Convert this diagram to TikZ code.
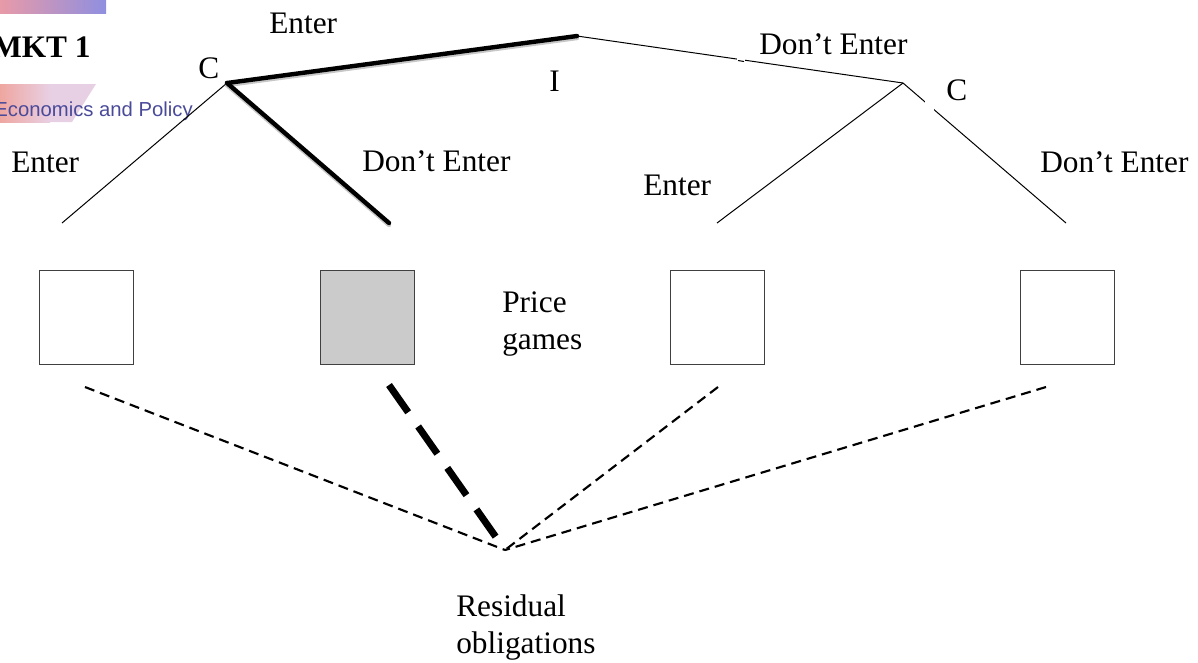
\documentclass[tikz,border=0pt]{standalone}
\usepackage{fontspec}
\setmainfont{Liberation Serif}
\newfontfamily\logofont{Liberation Sans}
\usetikzlibrary{shadings}
\definecolor{logoblue}{HTML}{4A4A9A}
\definecolor{pinkband}{HTML}{E89AA8}
\definecolor{blueband}{HTML}{8F8FE0}
\definecolor{salmon}{HTML}{EFA6A0}
\definecolor{lilac}{HTML}{E8D0E4}
\definecolor{gamefill}{HTML}{CBCBCB}
\tikzset{
  x=0.75pt,y=-0.75pt,
  lbl/.style={inner sep=0pt,font=\fontsize{23.5pt}{27pt}\selectfont,align=left},
  thin line/.style={draw=black,line width=0.75pt},
  thick line/.style={draw=black,line width=3.3pt,line cap=round},
  heavy shadow/.style={draw=black!22,line width=3.3pt,line cap=round},
  game/.style={draw=black!75,line width=0.75pt,fill=white},
  dash thin/.style={draw=black,line width=1.6pt,dash pattern=on 7.5pt off 4.5pt},
  dash heavy/.style={draw=black,line width=5.2pt,dash pattern=on 25pt off 13pt},
}
\begin{document}
\begin{tikzpicture}
\useasboundingbox (0,0) rectangle (1198,662);
% logo fragments
\shade[left color=pinkband,right color=blueband] (0,0) rectangle (106,13);
\shade[left color=salmon,right color=lilac] (0,84) rectangle (50,122);
\fill[lilac] (50,84) -- (96,84) -- (72,122) -- (50,122) -- cycle;
\node[inner sep=0pt,anchor=base west,font=\bfseries\fontsize{23.5pt}{27pt}\selectfont] (mkt) at (-8,57) {MKT 1};
\node[inner sep=0pt,anchor=base east,text=logoblue,font=\logofont\fontsize{15.2pt}{18pt}\selectfont] (logo) at (193,116) {al Economics and Policy};
% tree nodes
\coordinate (cl) at (227,83);
\coordinate (top) at (577,36);
\coordinate (cr) at (903,83);
\coordinate (ll) at (62,223);
\coordinate (lr) at (389,223);
\coordinate (rl) at (717,223);
\coordinate (rr) at (1066,223);
\coordinate (hub) at (505,550);
\coordinate (d1) at (85,387);
\coordinate (d2) at (389,385);
\coordinate (d3) at (718,387);
\coordinate (d4) at (1046,387);
% games
\node[game,minimum size=70.5pt,inner sep=0pt,anchor=north west] (g1) at (39,270) {};
\node[game,minimum size=70.5pt,inner sep=0pt,anchor=north west,fill=gamefill] (g2) at (320,270) {};
\node[game,minimum size=70.5pt,inner sep=0pt,anchor=north west] (g3) at (670,270) {};
\node[game,minimum size=70.5pt,inner sep=0pt,anchor=north west] (g4) at (1020,270) {};
% tree edges
\draw[thin line] (top) -- (cr);
\draw[thin line] (cl) -- (ll);
\draw[thin line] (cr) -- (rl);
\draw[thin line] (cr) -- (rr);
\draw[heavy shadow] ([yshift=-1.5pt]cl) -- ([yshift=-1.5pt]lr);
\draw[heavy shadow] ([yshift=-1.5pt]cl) -- ([yshift=-1.5pt]top);
\draw[thick line] (cl) -- (top);
\draw[thick line] (cl) -- (lr);
% white gaps in the right branches
\fill[white] (737,52) rectangle (745,66);
\fill[white] (925,100) rectangle (934,112);
\draw[thin line] (738,60.5) -- (744,61.5);
% dashed lines
\draw[dash thin] (d1) -- (hub);
\draw[dash thin] (d3) -- (hub);
\draw[dash thin] (d4) -- (hub);
\draw[dash heavy] (d2) -- (hub);
% labels
\node[lbl,anchor=base west] (t1) at (269,33) {Enter};
\node[lbl,anchor=base west] (t2) at (198,78) {C};
\node[lbl,anchor=base west] (t3) at (549,91) {I};
\node[lbl,anchor=base west] (t4) at (759,54) {Don’t Enter};
\node[lbl,anchor=base west] (t5) at (946,100) {C};
\node[lbl,anchor=base west] (t6) at (11,172) {Enter};
\node[lbl,anchor=base west] (t7) at (362,171) {Don’t Enter};
\node[lbl,anchor=base west] (t8) at (643,195) {Enter};
\node[lbl,anchor=base west] (t9) at (1040,172) {Don’t Enter};
\node[lbl,anchor=base west] (t10) at (502,312) {Price};
\node[lbl,anchor=base west] (t11) at (502,349) {games};
\node[lbl,anchor=base west] (t12) at (456,616) {Residual};
\node[lbl,anchor=base west] (t13) at (456,653) {obligations};
\end{tikzpicture}
\end{document}
